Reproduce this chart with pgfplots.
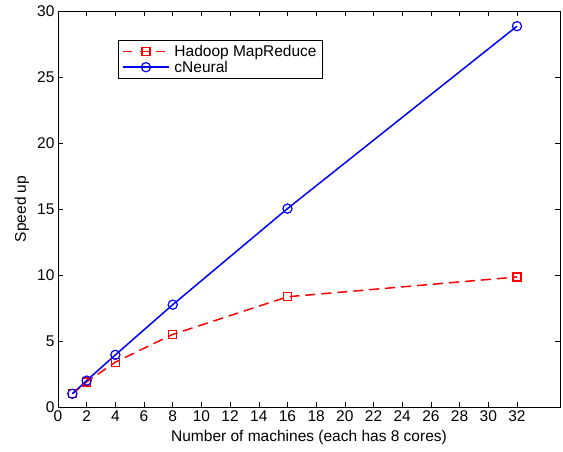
\documentclass[border=0pt]{standalone}
\usepackage{pgfplots}
\pgfplotsset{compat=1.18}
\usepackage{fontspec}
\setmainfont{Liberation Sans}
\definecolor{mred}{RGB}{255,0,0}
\definecolor{mblue}{RGB}{0,0,255}
\begin{document}
\begin{tikzpicture}
\begin{axis}[
  scale only axis, width=502pt, height=396pt,
  xmin=0, xmax=35, ymin=0, ymax=30,
  xtick={0,2,...,32}, ytick={0,5,...,30},
  tick align=inside, tick pos=both,
  major tick length=5pt,
  axis line style={line width=0.8pt},
  every tick/.style={black, line width=0.6pt},
  font=\fontsize{15.5}{17}\selectfont,
  /pgf/number format/assume math mode=true,
  xlabel={Number of machines (each has 8 cores)},
  ylabel={Speed up},
  xlabel style={at={(axis description cs:0.5,-0.078)}, anchor=center},
  ylabel style={at={(axis description cs:-0.072,0.5)}, anchor=center},
  legend style={at={(0.12,0.927)}, anchor=north west, font=\fontsize{15.5}{17}\selectfont, inner xsep=4pt, inner ysep=3pt, row sep=-1pt, /tikz/every odd column/.style={column sep=3pt}},
  legend cell align=left,
]
\addplot[draw=mred, line width=1.5pt, dash pattern=on 10pt off 6pt, mark=square, mark size=4pt, mark options={draw=mred, solid, line width=1.2pt}, forget plot]
  coordinates {(1,1) (2,1.9) (4,3.4) (8,5.5) (16,8.35) (32,9.85)};
\addplot[draw=mblue, line width=1.5pt, mark=o, mark size=4.6pt, mark options={draw=mblue, solid, line width=1.2pt}, forget plot]
  coordinates {(1,1) (2,2) (4,3.95) (8,7.75) (16,15.03) (32,28.85)};
\addlegendimage{legend image code/.code={
  \draw[draw=mred, line width=1.5pt, dash pattern=on 9pt off 7.5pt] (0cm,0cm) -- (1.6cm,0cm);
  \draw[draw=mred, line width=1.2pt] (0.8cm,0cm) +(-4pt,-4pt) rectangle +(4pt,4pt);
}}
\addlegendentry{Hadoop MapReduce}
\addlegendimage{legend image code/.code={
  \draw[draw=mblue, line width=1.5pt] (0cm,0cm) -- (1.6cm,0cm);
  \draw[draw=mblue, line width=1.2pt] (0.8cm,0cm) circle (4.6pt);
}}
\addlegendentry{cNeural}
\end{axis}
\pgfresetboundingbox
\path ([shift={(-58pt,-44pt)}]current axis.south west) rectangle ([shift={(3pt,11pt)}]current axis.north east);
\end{tikzpicture}
\end{document}
